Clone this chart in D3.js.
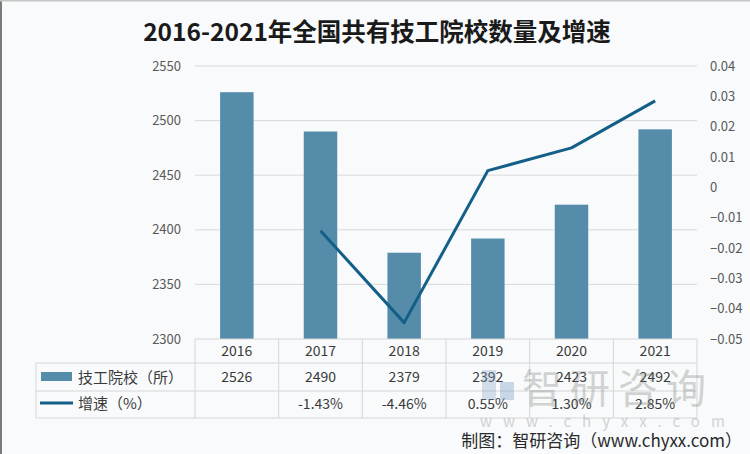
<!DOCTYPE html>
<html><head><meta charset="utf-8">
<script src="https://cdn.jsdelivr.net/npm/d3@7/dist/d3.min.js"></script>
<style>body{margin:0;background:#f8fafb}svg{display:block}</style>
</head><body><svg id="c" width="750" height="454"></svg>
<script>
const years = ["2016","2017","2018","2019","2020","2021"];
const schools = [2526, 2490, 2379, 2392, 2423, 2492];
const growthPct = [null, -1.43, -4.46, 0.55, 1.30, 2.85];
const growthLabels = ["", "-1.43%", "-4.46%", "0.55%", "1.30%", "2.85%"];
const leftTicks = [2300, 2350, 2400, 2450, 2500, 2550];
const rightTicks = [-0.05, -0.04, -0.03, -0.02, -0.01, 0, 0.01, 0.02, 0.03, 0.04];
const title = "2016-2021年全国共有技工院校数量及增速";
const seriesNames = ["技工院校（所）", "增速（%）"];
const credit = "制图：智研咨询（www.chyxx.com）";

const barColor = "#558ca9", lineColor = "#145f87", txt = "#3a3a3a", axisTxt = "#595959", gridC = "#d9d9d9";
const font = "'Noto Sans CJK SC','Noto Sans',sans-serif";
const svg = d3.select("#c").style("font-family", font);
svg.append("rect").attr("width",750).attr("height",454).attr("fill","#f8fafb");
svg.append("rect").attr("x",0).attr("y",0).attr("width",2).attr("height",454).attr("fill","#7a7a7a");
svg.append("rect").attr("x",0).attr("y",0).attr("width",750).attr("height",1.5).attr("fill","#c4c4c4");

const L = 195, R = 697, T = 66, B = 339;
const x = d3.scaleBand().domain(years).range([L, R]).paddingInner(0.6).paddingOuter(0.3);
const yL = d3.scaleLinear().domain([2300, 2550]).range([B, T]);
const yR = d3.scaleLinear().domain([-0.05, 0.04]).range([B, T]);

// title
svg.append("text").attr("x", 377).attr("y", 41).attr("text-anchor","middle")
  .attr("font-size", 24.5).attr("font-weight", "bold").attr("fill", "#1a1a1a").text(title);

// gridlines
svg.append("g").selectAll("line").data(leftTicks.filter(d => d > 2300)).join("line")
  .attr("x1", L).attr("x2", R).attr("y1", d => yL(d)).attr("y2", d => yL(d))
  .attr("stroke", gridC).attr("stroke-width", 1);

// left axis
const gl = svg.append("g").attr("transform", `translate(${L},0)`)
  .call(d3.axisLeft(yL).tickValues(leftTicks).tickSize(0).tickPadding(14).tickFormat(d3.format("d")));
gl.select(".domain").remove();
gl.selectAll("text").attr("font-size", 13).attr("fill", axisTxt).attr("font-family", font);

// right axis
const gr = svg.append("g").attr("transform", `translate(${R},0)`)
  .call(d3.axisRight(yR).tickValues(rightTicks).tickSize(0).tickPadding(13)
    .tickFormat(d => Math.abs(d) < 1e-9 ? "0" : d3.format(".2f")(d)));
gr.select(".domain").remove();
gr.selectAll("text").attr("font-size", 13).attr("fill", axisTxt).attr("font-family", font);

// bars
svg.append("g").selectAll("rect").data(years).join("rect")
  .attr("x", d => x(d)).attr("width", x.bandwidth())
  .attr("y", (d, i) => yL(schools[i])).attr("height", (d, i) => yL(2300) - yL(schools[i]))
  .attr("fill", barColor);

// line
const pts = years.map((d, i) => [x(d) + x.bandwidth() / 2, growthPct[i]]).filter(p => p[1] !== null);
svg.append("path").datum(pts)
  .attr("d", d3.line().x(p => p[0]).y(p => yR(p[1] / 100)))
  .attr("fill", "none").attr("stroke", lineColor).attr("stroke-width", 3).attr("stroke-linejoin","round");

// data table
const rowY = [339, 363, 391, 418];
const tg = svg.append("g").attr("stroke", "#d6d6d6").attr("stroke-width", 1).attr("fill", "none");
tg.append("line").attr("x1", L).attr("x2", R).attr("y1", rowY[0]).attr("y2", rowY[0]);
tg.append("line").attr("x1", 36).attr("x2", R).attr("y1", rowY[1]).attr("y2", rowY[1]);
tg.append("line").attr("x1", 36).attr("x2", R).attr("y1", rowY[2]).attr("y2", rowY[2]);
tg.append("line").attr("x1", 36).attr("x2", R).attr("y1", rowY[3]).attr("y2", rowY[3]);
tg.append("line").attr("x1", 36).attr("x2", 36).attr("y1", rowY[1]).attr("y2", rowY[3]);
const colEdges = d3.range(years.length + 1).map(i => L + i * (R - L) / years.length);
tg.selectAll("line.v").data(colEdges).join("line").attr("class","v")
  .attr("x1", d => d).attr("x2", d => d).attr("y1", rowY[0]).attr("y2", rowY[3]);

const colC = years.map((d, i) => L + (i + 0.5) * (R - L) / years.length);
const tt = svg.append("g").attr("font-size", 14).attr("fill", txt).attr("text-anchor", "middle");
tt.selectAll("text.yr").data(years).join("text").attr("class","yr")
  .attr("x", (d, i) => colC[i]).attr("y", 356).text(d => d);
tt.selectAll("text.sc").data(schools).join("text").attr("class","sc")
  .attr("x", (d, i) => colC[i]).attr("y", 382).text(d => d);
tt.selectAll("text.gr").data(growthLabels).join("text").attr("class","gr")
  .attr("x", (d, i) => colC[i]).attr("y", 409).text(d => d);

// legend in table
svg.append("rect").attr("x", 41).attr("y", 372).attr("width", 31).attr("height", 9).attr("fill", barColor);
svg.append("line").attr("x1", 40).attr("x2", 73).attr("y1", 403).attr("y2", 403)
  .attr("stroke", lineColor).attr("stroke-width", 3);
svg.append("text").attr("x", 78).attr("y", 383).attr("font-size", 15).attr("fill", txt).text(seriesNames[0]);
svg.append("text").attr("x", 78).attr("y", 409).attr("font-size", 15).attr("fill", txt).text(seriesNames[1]);

// watermark
const wm = svg.append("g").attr("opacity", 0.3);
wm.append("rect").attr("x", 482).attr("y", 370).attr("width", 14).attr("height", 30).attr("fill", "#7a9bc0");
wm.append("rect").attr("x", 500).attr("y", 382).attr("width", 14).attr("height", 18).attr("fill", "#5b86b8");
wm.append("text").attr("x", 522).attr("y", 403).attr("font-size", 40).attr("fill", "#777")
  .attr("letter-spacing", 8).text("智研咨询");
wm.append("text").attr("x", 480).attr("y", 427).attr("font-size", 15).attr("fill", "#777")
  .attr("letter-spacing", 11).text("www.chyxx.com");

// credit
svg.append("text").attr("x", 742).attr("y", 447).attr("text-anchor", "end")
  .attr("font-size", 17).attr("fill", "#2a2a2a").text(credit);
</script></body></html>
